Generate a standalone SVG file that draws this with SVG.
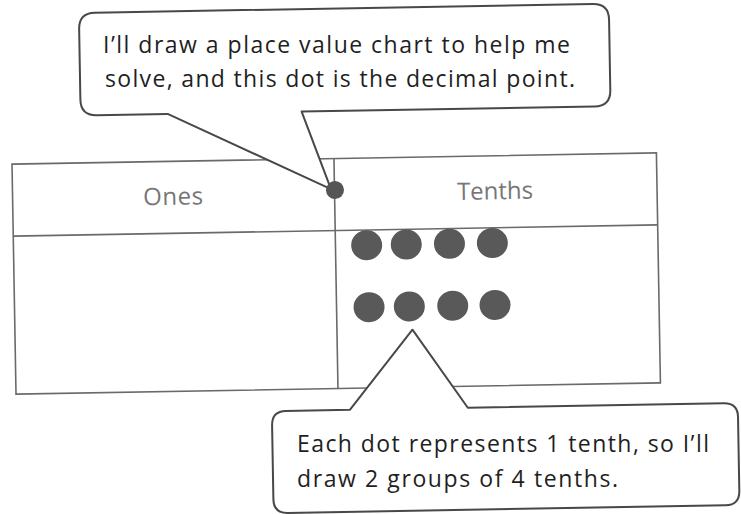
<svg xmlns="http://www.w3.org/2000/svg" width="741" height="514" viewBox="0 0 741 514">
  <style>
    .callout { fill: #ffffff; stroke: #484848; stroke-width: 2; stroke-linejoin: round; }
    .grid { fill: none; stroke: #6a6a6a; stroke-width: 1.6; }
    .say { font-family: "Open Sans", "Liberation Sans", sans-serif; font-size: 23px; fill: #1f1f1f; }
    .head { font-family: "Open Sans", "Liberation Sans", sans-serif; font-size: 24px; fill: #777777; text-anchor: middle; }
    .tenth { fill: #595959; }
  </style>
  <rect width="741" height="514" fill="#ffffff"/>
  <g transform="rotate(-1 336 190)">
    <g id="chart">
      <rect class="grid" x="12.5" y="158.5" width="644.5" height="230"/>
      <line class="grid" x1="12.5" y1="230.5" x2="657" y2="230.5"/>
      <line class="grid" x1="334.5" y1="158.5" x2="334.5" y2="388.5"/>
      <text class="head" x="173" y="202" textLength="60">Ones</text>
      <text class="head" x="495" y="202">Tenths</text>
    </g>
    <g id="tenths-dots">
      <ellipse class="tenth" cx="365.7" cy="245.7" rx="15.5" ry="15"/>
      <ellipse class="tenth" cx="405.3" cy="245.7" rx="15.5" ry="15"/>
      <ellipse class="tenth" cx="448.5" cy="245.7" rx="15.5" ry="15"/>
      <ellipse class="tenth" cx="491.4" cy="245.7" rx="15.5" ry="15"/>
      <ellipse class="tenth" cx="367" cy="307.7" rx="15.5" ry="15"/>
      <ellipse class="tenth" cx="407.3" cy="307.7" rx="15.5" ry="15"/>
      <ellipse class="tenth" cx="450.7" cy="307.7" rx="15.5" ry="15"/>
      <ellipse class="tenth" cx="493" cy="307.7" rx="15.5" ry="15"/>
    </g>
    <g id="callout-top-shape">
      <path class="callout" d="M 98,8.5 H 596 Q 612,8.5 612,24.5 V 95 Q 612,111 596,111 H 303 L 331,189 L 169,111 H 98 Q 82,111 82,95 V 24.5 Q 82,8.5 98,8.5 Z"/>
    </g>
    <g id="decimal-point">
      <circle cx="335" cy="190" r="9" fill="#555555"/>
    </g>
    <g id="callout-bottom-shape">
      <path class="callout" d="M 282,410 H 346 L 410,331 L 464,410 H 720 Q 734,410 734,424 V 498 Q 734,512 720,512 H 282 Q 268,512 268,498 V 424 Q 268,410 282,410 Z"/>
    </g>
  </g>
  <g id="callout-top-text">
    <text class="say" x="103" y="53" textLength="467">I’ll draw a place value chart to help me</text>
    <text class="say" x="105" y="87" textLength="470">solve, and this dot is the decimal point.</text>
  </g>
  <g id="callout-bottom-text">
    <text class="say" x="297" y="452" textLength="412">Each dot represents 1 tenth, so I’ll</text>
    <text class="say" x="297" y="487" textLength="321">draw 2 groups of 4 tenths.</text>
  </g>
</svg>
